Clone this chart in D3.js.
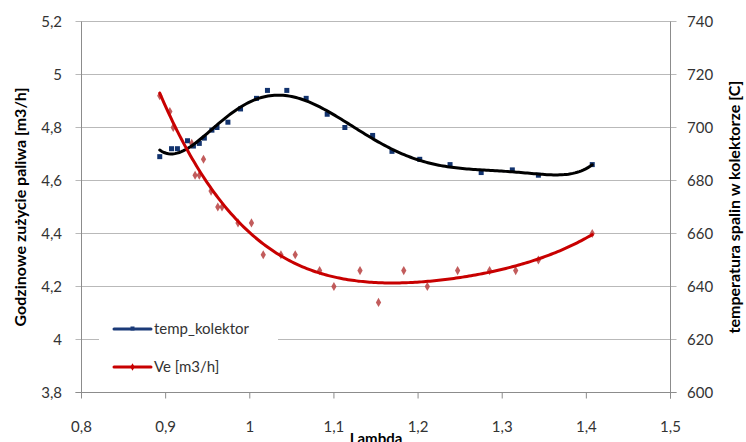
<!DOCTYPE html>
<html><head><meta charset="utf-8">
<script src="https://cdn.jsdelivr.net/npm/d3@7"></script>
<style>body{margin:0;background:#fff} svg{display:block} text{font-family:Lato,'Open Sans',sans-serif}</style>
</head><body><svg id="c" width="746" height="442"></svg>
<script>
const xTicks = [0.8, 0.9, 1.0, 1.1, 1.2, 1.3, 1.4, 1.5];
const leftTicks = [3.8, 4.0, 4.2, 4.4, 4.6, 4.8, 5.0, 5.2];
const rightTicks = [600, 620, 640, 660, 680, 700, 720, 740];
const seriesNames = ["temp_kolektor", "Ve [m3/h]"];
const axisTitles = ["Lambda", "Godzinowe zużycie paliwa [m3/h]", "temperatura spalin w kolektorze [C]"];

const tempLambda = [0.893,0.907,0.914,0.926,0.933,0.940,0.946,0.955,0.961,0.974,0.989,1.008,1.021,1.044,1.067,1.092,1.113,1.146,1.169,1.202,1.238,1.275,1.312,1.343,1.407];
const tempValues = [689,692,692,695,693,694,696,699,700,702,707,711,714,714,711,705,700,697,691,688,686,683,684,682,686];

const veLambda = [0.893,0.905,0.909,0.931,0.935,0.940,0.945,0.954,0.962,0.967,0.986,1.002,1.016,1.037,1.054,1.083,1.100,1.131,1.153,1.183,1.211,1.247,1.285,1.316,1.343,1.407];
const veValues = [4.92,4.86,4.80,4.74,4.62,4.62,4.68,4.56,4.50,4.50,4.44,4.44,4.32,4.32,4.32,4.26,4.20,4.26,4.14,4.26,4.20,4.26,4.26,4.26,4.30,4.40];

const trendDegree = [6, 4];

const svg = d3.select("#c");
const x = d3.scaleLinear([0.8, 1.5], [81.5, 670.5]);
const yL = d3.scaleLinear([3.8, 5.2], [392.5, 21.5]);
const yR = d3.scaleLinear([600, 740], [392.5, 21.5]);
const fmt = v => String(Math.round(v * 10) / 10).replace('.', ',');

// gridlines
svg.append("g").selectAll("line").data(leftTicks).join("line")
  .attr("x1", x(0.8) - 6).attr("x2", x(1.5) + 6)
  .attr("y1", d => yL(d)).attr("y2", d => yL(d))
  .attr("stroke", "#b9b9b9").attr("stroke-width", 1);

// axes lines
svg.append("line").attr("x1", x(0.8)).attr("x2", x(0.8)).attr("y1", yL(5.2)).attr("y2", yL(3.8)).attr("stroke", "#8c8c8c");
svg.append("line").attr("x1", x(1.5)).attr("x2", x(1.5)).attr("y1", yL(5.2)).attr("y2", yL(3.8) + 6).attr("stroke", "#8c8c8c");
svg.append("line").attr("x1", x(0.8) - 6).attr("x2", x(1.5) + 6).attr("y1", yL(3.8)).attr("y2", yL(3.8)).attr("stroke", "#8c8c8c");
svg.append("g").selectAll("line").data(xTicks).join("line")
  .attr("x1", d => x(d)).attr("x2", d => x(d))
  .attr("y1", yL(3.8)).attr("y2", yL(3.8) + 6).attr("stroke", "#8c8c8c");

// tick labels
const lab = svg.append("g").attr("font-size", 15).attr("fill", "#333");
lab.selectAll(".xl").data(xTicks).join("text").attr("class", "xl")
  .attr("x", d => x(d)).attr("y", 432).attr("text-anchor", "middle").text(fmt);
lab.selectAll(".yl").data(leftTicks).join("text").attr("class", "yl")
  .attr("x", 62).attr("y", d => yL(d)).attr("dy", "0.35em").attr("text-anchor", "end").text(fmt);
lab.selectAll(".yr").data(rightTicks).join("text").attr("class", "yr")
  .attr("x", 687).attr("y", d => yR(d)).attr("dy", "0.35em").text(d => d);

// axis titles
svg.append("text").attr("x", x(1.15)).attr("y", 444).attr("text-anchor", "middle")
  .attr("font-size", 15).attr("font-weight", "bold").text(axisTitles[0]);
svg.append("text").attr("transform", `translate(20,${(yL(5.2)+yL(3.8))/2}) rotate(-90)`)
  .attr("text-anchor", "middle").attr("dy", "0.35em").attr("font-size", 16).attr("font-weight", "bold").text(axisTitles[1]);
svg.append("text").attr("transform", `translate(734,${(yL(5.2)+yL(3.8))/2}) rotate(-90)`)
  .attr("text-anchor", "middle").attr("dy", "0.35em").attr("font-size", 16).attr("font-weight", "bold").text(axisTitles[2]);

// least squares polynomial trendline (as Excel does)
function polyfit(xs, ys, deg) {
  const c = 1.15, s = 4;
  const n = deg + 1;
  const A = Array.from({length: n}, () => new Array(n + 1).fill(0));
  xs.forEach((xv, k) => {
    const u = (xv - c) * s;
    const p = [];
    for (let i = 0; i < 2 * n; i++) p.push(Math.pow(u, i));
    for (let i = 0; i < n; i++) {
      for (let j = 0; j < n; j++) A[i][j] += p[i + j];
      A[i][n] += p[i] * ys[k];
    }
  });
  for (let i = 0; i < n; i++) {
    let m = i;
    for (let r = i + 1; r < n; r++) if (Math.abs(A[r][i]) > Math.abs(A[m][i])) m = r;
    [A[i], A[m]] = [A[m], A[i]];
    for (let r = 0; r < n; r++) if (r !== i) {
      const f = A[r][i] / A[i][i];
      for (let k = i; k <= n; k++) A[r][k] -= f * A[i][k];
    }
  }
  const coef = A.map((row, i) => row[n] / row[i]);
  return xv => { const u = (xv - c) * s; return coef.reduce((acc, a, i) => acc + a * Math.pow(u, i), 0); };
}

// markers
svg.append("g").selectAll("rect").data(tempLambda).join("rect")
  .attr("x", (d) => x(d) - 2.5).attr("y", (d, i) => yR(tempValues[i]) - 2.5)
  .attr("width", 5).attr("height", 5).attr("fill", "#12336e");
const diamond = d3.symbol().type(d3.symbolDiamond).size(24);
svg.append("g").selectAll("path").data(veLambda).join("path")
  .attr("transform", (d, i) => `translate(${x(d)},${yL(veValues[i])})`)
  .attr("d", diamond).attr("fill", "#bb4a4a").attr("opacity", 0.9);

// trendlines
function trend(xs, ys, deg, yScale, color) {
  const f = polyfit(xs, ys, deg);
  const lo = d3.min(xs), hi = d3.max(xs);
  const pts = d3.range(0, 201).map(i => lo + (hi - lo) * i / 200);
  svg.append("path").datum(pts)
    .attr("d", d3.line().x(d => x(d)).y(d => yScale(f(d))).curve(d3.curveLinear))
    .attr("fill", "none").attr("stroke", color).attr("stroke-width", 3).attr("stroke-linecap", "round");
}
trend(tempLambda, tempValues, trendDegree[0], yR, "#000");
trend(veLambda, veValues, trendDegree[1], yL, "#c80000");

// legend
const lg = svg.append("g");
lg.append("rect").attr("x", 99).attr("y", 293).attr("width", 179).attr("height", 95).attr("fill", "#fff");
const legendColors = ["#1b3a78", "#c80000"];
const legendY = [329, 367];
seriesNames.forEach((name, i) => {
  lg.append("line").attr("x1", 114).attr("x2", 151).attr("y1", legendY[i]).attr("y2", legendY[i])
    .attr("stroke", legendColors[i]).attr("stroke-width", 3).attr("stroke-linecap", "round");
  if (i === 0) lg.append("rect").attr("x", 130.5).attr("y", legendY[i] - 2.5).attr("width", 4).attr("height", 4).attr("fill", legendColors[i]);
  else lg.append("path").attr("transform", `translate(132.5,${legendY[i]})`).attr("d", d3.symbol().type(d3.symbolDiamond).size(16)).attr("fill", legendColors[i]);
  lg.append("text").attr("x", 154).attr("y", legendY[i]).attr("dy", "0.35em")
    .attr("font-size", 15).attr("fill", "#333").text(name);
});
</script></body></html>
